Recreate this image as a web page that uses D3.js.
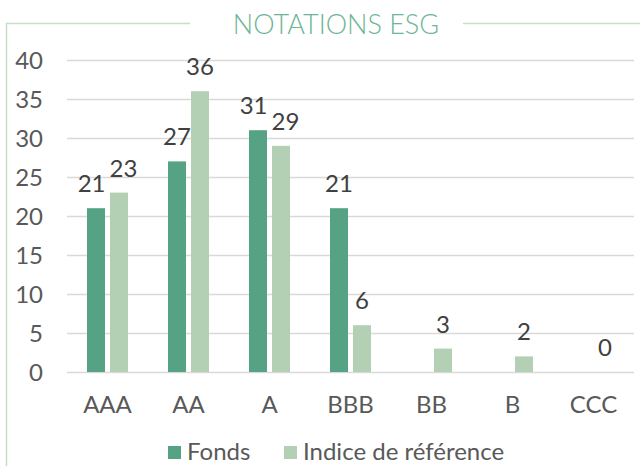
<!DOCTYPE html>
<html>
<head>
<meta charset="utf-8">
<script src="https://cdn.jsdelivr.net/npm/d3@7"></script>
<style>
  body { margin: 0; background: #fff; }
  svg text { font-family: Lato, "Open Sans", sans-serif; }
</style>
</head>
<body>
<svg id="chart" width="640" height="466"></svg>
<script>
const WIDTH = 640;
const HEIGHT = 466;

const categories = ["AAA", "AA", "A", "BBB", "BB", "B", "CCC"];
const series = ["Fonds", "Indice de référence"];
const fonds = [21, 27, 31, 21, null, null, null];
const indice = [23, 36, 29, 6, 3, 2, 0];
const yTicks = [0, 5, 10, 15, 20, 25, 30, 35, 40];

const COLORS = ["#55a285", "#b3d0b4"];
const FRAME = "#c5dfc5";
const TEXT = "#595959";
const FS = 24;

const margin = { top: 60, right: 6, bottom: 94, left: 67 };
const plotW = WIDTH - margin.left - margin.right;
const plotH = 372 - margin.top;

const svg = d3.select("#chart");

// frame, open where the title sits
svg.append("path")
  .attr("d", "M6.5,466 V23.5 H190")
  .attr("fill", "none")
  .attr("stroke", FRAME)
  .attr("stroke-width", 1.5);
svg.append("line")
  .attr("x1", 463).attr("x2", WIDTH)
  .attr("y1", 23.5).attr("y2", 23.5)
  .attr("stroke", FRAME)
  .attr("stroke-width", 1.5);

svg.append("text")
  .attr("x", 336)
  .attr("y", 34)
  .attr("text-anchor", "middle")
  .attr("font-size", 27)
  .attr("font-weight", 300)
  .attr("fill", "#6db595")
  .text("NOTATIONS ESG");

const g = svg.append("g")
  .attr("transform", "translate(" + margin.left + "," + margin.top + ")");

const x0 = d3.scaleBand()
  .domain(categories)
  .range([0, plotW])
  .paddingInner(40 / 81)
  .paddingOuter(20 / 81);

const x1 = d3.scaleBand()
  .domain(series)
  .range([0, x0.bandwidth()])
  .paddingInner(5 / 23);

const y = d3.scaleLinear()
  .domain([0, 40])
  .range([plotH, 0]);

// gridlines
g.selectAll(".grid")
  .data(yTicks)
  .enter()
  .append("line")
  .attr("class", "grid")
  .attr("x1", 0)
  .attr("x2", plotW)
  .attr("y1", (d) => Math.round(y(d)) + 0.5)
  .attr("y2", (d) => Math.round(y(d)) + 0.5)
  .attr("stroke", "#d9d9d9")
  .attr("stroke-width", 1.5);

// y tick labels
g.selectAll(".ytick")
  .data(yTicks)
  .enter()
  .append("text")
  .attr("class", "ytick")
  .attr("x", -24)
  .attr("y", (d) => y(d) + 9)
  .attr("text-anchor", "end")
  .attr("font-size", FS)
  .attr("fill", TEXT)
  .text((d) => d);

// x labels
g.selectAll(".xtick")
  .data(categories)
  .enter()
  .append("text")
  .attr("class", "xtick")
  .attr("x", (d) => x0(d) + x0.bandwidth() / 2)
  .attr("y", plotH + 41)
  .attr("text-anchor", "middle")
  .attr("font-size", FS)
  .attr("fill", TEXT)
  .text((d) => d);

const rows = [];
categories.forEach((c, i) => {
  rows.push({ cat: c, s: series[0], v: fonds[i], k: 0 });
  rows.push({ cat: c, s: series[1], v: indice[i], k: 1 });
});
const present = rows.filter((d) => d.v !== null);

g.selectAll(".bar")
  .data(present)
  .enter()
  .append("rect")
  .attr("class", "bar")
  .attr("x", (d) => x0(d.cat) + x1(d.s))
  .attr("y", (d) => y(d.v))
  .attr("width", x1.bandwidth())
  .attr("height", (d) => plotH - y(d.v))
  .attr("fill", (d) => COLORS[d.k]);

const labels = g.selectAll(".val")
  .data(present)
  .enter()
  .append("text")
  .attr("class", "val")
  .attr("x", (d) => x0(d.cat) + x1(d.s) + x1.bandwidth() / 2)
  .attr("y", (d) => y(d.v) - 16)
  .attr("text-anchor", "middle")
  .attr("font-size", FS)
  .attr("fill", "#404040")
  .text((d) => d.v);

// push apart labels of the same group that collide
categories.forEach((c) => {
  const pair = labels.filter((d) => d.cat === c).nodes();
  if (pair.length < 2) return;
  const a = pair[0].getBBox(), b = pair[1].getBBox();
  const overlapX = a.x + a.width + 4 - b.x;
  const overlapY = Math.min(a.y + a.height, b.y + b.height) - Math.max(a.y, b.y);
  if (overlapX > 0 && overlapY > 0) {
    d3.select(pair[0]).attr("x", +pair[0].getAttribute("x") - overlapX / 2);
    d3.select(pair[1]).attr("x", +pair[1].getAttribute("x") + overlapX / 2);
  }
});

// legend
const legend = svg.append("g").attr("transform", "translate(168,446)");
const legendX = [0, 116];
const li = legend.selectAll("g")
  .data(series)
  .enter()
  .append("g")
  .attr("transform", (d, i) => "translate(" + legendX[i] + ",0)");
li.append("rect")
  .attr("width", 13)
  .attr("height", 13)
  .attr("fill", (d, i) => COLORS[i]);
li.append("text")
  .attr("x", 19)
  .attr("y", 14)
  .attr("font-size", FS)
  .attr("fill", TEXT)
  .text((d) => d);
</script>
</body>
</html>
